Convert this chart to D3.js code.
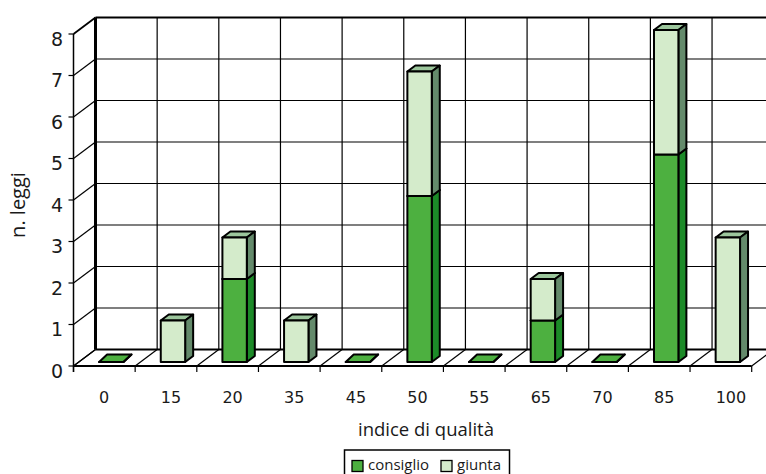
<!DOCTYPE html>
<html>
<head>
<meta charset="utf-8">
<style>
    body { margin: 0; background: #fff; }
    svg { display: block; }
    text { fill: #1a1a1a; }
    .num { font-family: "DejaVu Sans", sans-serif; }
    .lab { font-family: "Open Sans", sans-serif; }
</style>
</head>
<body>
<script src="https://d3js.org/d3.v7.min.js"></script>
<script>
    // values
    var categories = ["0", "15", "20", "35", "45", "50", "55", "65", "70", "85", "100"];
    var consiglio = [0, 0, 2, 0, 0, 4, 0, 1, 0, 5, 0];
    var giunta = [0, 1, 1, 1, 0, 3, 0, 1, 0, 3, 3];
    var yTicks = [0, 1, 2, 3, 4, 5, 6, 7, 8];

    const width = 766; const height = 474;
    const depthX = 22; const depthY = -16.5;   // back wall offset
    const barDX = 8; const barDY = -6;         // depth of a bar
    const barOffset = 25.6; const barW = 24.4; const barLift = -4;

    const svg = d3.select("body").append("svg")
        .attr("width", width)
        .attr("height", height);

    const x = d3.scaleBand().domain(categories).range([73.5, 751.7]);
    const y = d3.scaleLinear().domain([0, 8]).range([366, 34]);
    const poly = d3.line().curve(d3.curveLinearClosed);

    function seg(x1, y1, x2, y2, w) {
        svg.append("line")
            .attr("x1", x1).attr("y1", y1)
            .attr("x2", x2).attr("y2", y2)
            .attr("stroke", "#000")
            .attr("stroke-width", w);
    }

    // back wall grid and left wall
    yTicks.forEach(function (t) {
        var back = t == 8 || t == 0;
        seg(x.range()[0] + depthX, y(t) + depthY, width + 5, y(t) + depthY, back ? 2 : 1.2);
        seg(x.range()[0] - 5, y(t), x.range()[0], y(t), 1.2);
        seg(x.range()[0], y(t), x.range()[0] + depthX, y(t) + depthY, t == 8 ? 1.8 : 1.2);
    });
    var xEdges = categories.map(function (c) { return x(c); }).concat([x.range()[1]]);
    xEdges.forEach(function (e, i) {
        if (i > 0) seg(e + depthX, y(8) + depthY, e + depthX, y(0) + depthY, 1.2);
        seg(e, y(0), e + depthX, y(0) + depthY, 1.2);
        seg(e, y(0), e, y(0) + 6, 1.2);
    });
    seg(x.range()[0] + depthX, y(8) + depthY, x.range()[0] + depthX, y(0) + depthY, 3);
    seg(x.range()[0], y(8), x.range()[0], y(0) + 6, 1.5);
    seg(x.range()[0], y(0), x.range()[1], y(0), 2);

    // one box of a stacked bar: front, top, side
    function box(c, v0, v1, front, side, top, dy) {
        var l = x(c) + barOffset, r = l + barW;
        var b = y(v0) + barLift, t = y(v1) + barLift;
        var g = svg.append("g")
            .attr("stroke", "#000")
            .attr("stroke-width", 2)
            .attr("stroke-linejoin", "round");
        g.append("path").attr("fill", top)
            .attr("d", poly([[l, t], [r, t], [r + barDX, t + dy], [l + barDX, t + dy]]));
        g.append("path").attr("fill", side)
            .attr("d", poly([[r, b], [r, t], [r + barDX, t + dy], [r + barDX, b + dy]]));
        g.append("path").attr("fill", front)
            .attr("d", poly([[l, b], [r, b], [r, t], [l, t]]));
    }

    var colors = {
        consiglio: ["#4DB040", "#1C8A28", "#4DB040"],
        giunta: ["#D4EBCB", "#648A6B", "#9CC69C"]
    };
    categories.forEach(function (c, i) {
        var a = consiglio[i], b = giunta[i];
        if (a + b == 0) {
            // empty slot: only the floor of the bar shows
            box(c, 0, 0, colors.consiglio[0], colors.consiglio[1], colors.consiglio[2], -7.5);
            return;
        }
        if (a > 0) box(c, 0, a, colors.consiglio[0], colors.consiglio[1], colors.consiglio[2], barDY);
        if (b > 0) box(c, a, a + b, colors.giunta[0], colors.giunta[1], colors.giunta[2], barDY);
    });

    // tick labels
    svg.selectAll(".ylab").data(yTicks).enter().append("text")
        .attr("class", "num ylab")
        .attr("text-anchor", "end")
        .attr("x", 63)
        .attr("y", function (d) { return y(d) + 11.5; })
        .style("font-size", "19px")
        .text(function (d) { return d; });
    svg.selectAll(".xlab").data(categories).enter().append("text")
        .attr("class", "num xlab")
        .attr("x", function (d) { return x(d) + barOffset; })
        .attr("y", 403)
        .style("font-size", "16px")
        .text(function (d) { return d; });

    // axis titles
    svg.append("text").attr("class", "lab")
        .attr("text-anchor", "middle")
        .attr("transform", "translate(25,205) rotate(-90)")
        .style("font-size", "20px")
        .text("n. leggi");
    svg.append("text").attr("class", "lab")
        .attr("text-anchor", "middle")
        .attr("x", 426).attr("y", 436)
        .style("font-size", "18.5px")
        .text("indice di qualità");

    // legend, its lower edge runs off the picture
    svg.append("rect")
        .attr("x", 344.5).attr("y", 450)
        .attr("width", 165).attr("height", 30)
        .attr("fill", "#fff").attr("stroke", "#000").attr("stroke-width", 1.5);
    var legend = [["consiglio", colors.consiglio[0], 352, 368], ["giunta", colors.giunta[0], 441, 457]];
    legend.forEach(function (d) {
        svg.append("rect")
            .attr("x", d[2]).attr("y", 460.5)
            .attr("width", 11).attr("height", 11)
            .attr("fill", d[1]).attr("stroke", "#000").attr("stroke-width", 1.3);
        svg.append("text").attr("class", "lab")
            .attr("x", d[3]).attr("y", 470)
            .style("font-size", "15px")
            .text(d[0]);
    });
</script>
</body>
</html>
